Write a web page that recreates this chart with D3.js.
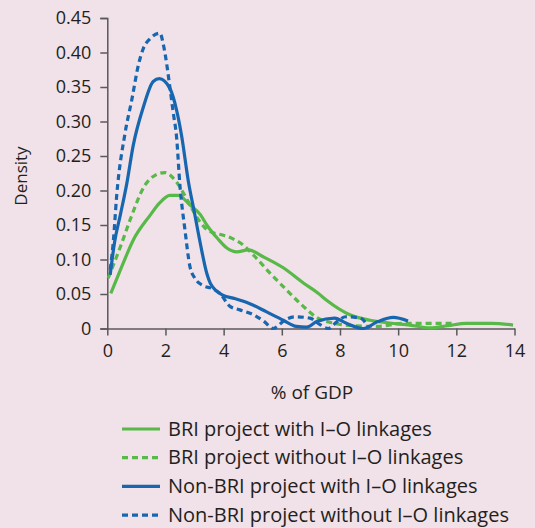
<!DOCTYPE html>
<html><head><meta charset="utf-8">
<script src="https://cdn.jsdelivr.net/npm/d3@7"></script>
<style>
html,body{margin:0;padding:0;background:#f1e1e8;}
svg{display:block;}
text{font-family:"Open Sans",sans-serif;fill:#231f20;}
</style></head>
<body><svg id="c" width="535" height="528"></svg>
<script>
const xTicks = [0,2,4,6,8,10,12,14];
const yTicks = [0,0.05,0.10,0.15,0.20,0.25,0.30,0.35,0.40,0.45];
const yTickLabels = ["0","0.05","0.10","0.15","0.20","0.25","0.30","0.35","0.40","0.45"];
const seriesNames = ["BRI project with I\u2013O linkages","BRI project without I\u2013O linkages","Non-BRI project with I\u2013O linkages","Non-BRI project without I\u2013O linkages"];
const briWith = [[0.12,0.051],[0.5,0.09],[0.89,0.128],[1.47,0.164],[1.8,0.182],[2.15,0.193],[2.44,0.193],[2.84,0.179],[3.2,0.165],[3.42,0.15],[3.8,0.13],[4.1,0.117],[4.45,0.111],[4.85,0.114],[5.36,0.104],[6.05,0.088],[6.74,0.066],[7.25,0.051],[7.54,0.041],[8.34,0.02],[9.03,0.012],[9.7,0.008],[10.4,0.005],[11.1,0.001],[11.7,0.004],[12.35,0.0075],[13.2,0.0075],[13.95,0.005]];
const briWithout = [[0.03,0.073],[0.49,0.123],[0.78,0.157],[1.3,0.208],[1.64,0.222],[1.98,0.226],[2.33,0.215],[2.78,0.184],[3.1,0.16],[3.47,0.142],[3.99,0.135],[4.27,0.131],[4.67,0.121],[5.08,0.104],[5.6,0.08],[6.16,0.056],[6.74,0.032],[7.2,0.016],[7.8,0.0075],[8.5,0.004],[9.26,0.003],[10.17,0.0075],[11.43,0.0075],[11.84,0.0075]];
const nonBriWith = [[0.1,0.078],[0.25,0.125],[0.45,0.165],[0.67,0.21],[0.89,0.265],[1.24,0.321],[1.58,0.358],[1.79,0.362],[2.15,0.348],[2.38,0.317],[2.56,0.278],[2.78,0.215],[3.0,0.167],[3.19,0.125],[3.42,0.08],[3.55,0.065],[3.99,0.048],[4.33,0.044],[4.9,0.036],[5.48,0.024],[6.05,0.012],[6.5,0.003],[6.85,0.002],[7.2,0.01],[7.82,0.015],[8.2,0.008],[8.8,0.0],[9.3,0.01],[9.83,0.016],[10.34,0.011]];
const nonBriWithout = [[0.1,0.085],[0.21,0.128],[0.32,0.191],[0.61,0.283],[0.84,0.331],[1.07,0.382],[1.24,0.406],[1.47,0.42],[1.81,0.428],[1.92,0.413],[2.04,0.384],[2.15,0.35],[2.27,0.312],[2.38,0.278],[2.5,0.206],[2.67,0.143],[2.84,0.09],[3.01,0.073],[3.3,0.062],[3.6,0.058],[3.87,0.051],[4.22,0.032],[4.56,0.027],[5.02,0.02],[5.4,0.01],[5.7,0.0],[6.1,0.012],[6.45,0.017],[6.97,0.015],[7.3,0.006],[7.6,0.0],[7.9,0.01],[8.2,0.017],[8.7,0.015],[9.0,0.0]];

const green = "#57b947", blue = "#1766b0";
const series = [
  {name: seriesNames[0], data: briWith, color: green, dash: null},
  {name: seriesNames[1], data: briWithout, color: green, dash: "6,4"},
  {name: seriesNames[2], data: nonBriWith, color: blue, dash: null},
  {name: seriesNames[3], data: nonBriWithout, color: blue, dash: "6,4"}
];

const svg = d3.select("#c");
const x = d3.scaleLinear().domain([0,14]).range([107.3,514.5]);
const y = d3.scaleLinear().domain([0,0.45]).range([328.5,18]);
const axisColor = "#58595b";

const ya = svg.append("g").attr("transform","translate(107.3,0)")
  .call(d3.axisLeft(y).tickValues(yTicks).tickFormat((d,i)=>yTickLabels[i]).tickSize(7).tickPadding(9));
ya.select(".domain").attr("stroke",axisColor).attr("stroke-width",1.5);
ya.selectAll(".tick line").attr("stroke",axisColor).attr("stroke-width",1.5);
ya.selectAll(".tick text").style("font-size","18px").style("font-family","Open Sans, sans-serif").attr("fill","#231f20");

const xa = svg.append("g").attr("transform","translate(0,328.5)")
  .call(d3.axisBottom(x).tickValues(xTicks).tickFormat(d3.format("d")).tickSize(7).tickSizeOuter(0).tickPadding(9));
xa.select(".domain").attr("stroke",axisColor).attr("stroke-width",1.5);
xa.selectAll(".tick line").attr("stroke",axisColor).attr("stroke-width",1.5);
xa.selectAll(".tick text").style("font-size","18px").style("font-family","Open Sans, sans-serif").attr("fill","#231f20");

svg.append("text").attr("x",312).attr("y",399).attr("text-anchor","middle").style("font-size","19px").text("% of GDP");
svg.append("text").attr("transform","translate(27,176) rotate(-90)").attr("text-anchor","middle").style("font-size","17px").text("Density");

const line = d3.line().x(d=>x(d[0])).y(d=>y(d[1])).curve(d3.curveMonotoneX);
series.forEach(s=>{
  svg.append("path").datum(s.data).attr("d",line).attr("fill","none")
    .attr("stroke",s.color).attr("stroke-width",3.2).attr("stroke-dasharray",s.dash);
});

const lg = svg.append("g");
series.forEach((s,i)=>{
  const cy = 429 + i*28.7;
  lg.append("line").attr("x1",122).attr("x2",160).attr("y1",cy).attr("y2",cy)
    .attr("stroke",s.color).attr("stroke-width",3.2).attr("stroke-dasharray",s.dash);
  lg.append("text").attr("x",168).attr("y",cy+6.5).style("font-size","20px").text(s.name);
});
</script></body></html>
